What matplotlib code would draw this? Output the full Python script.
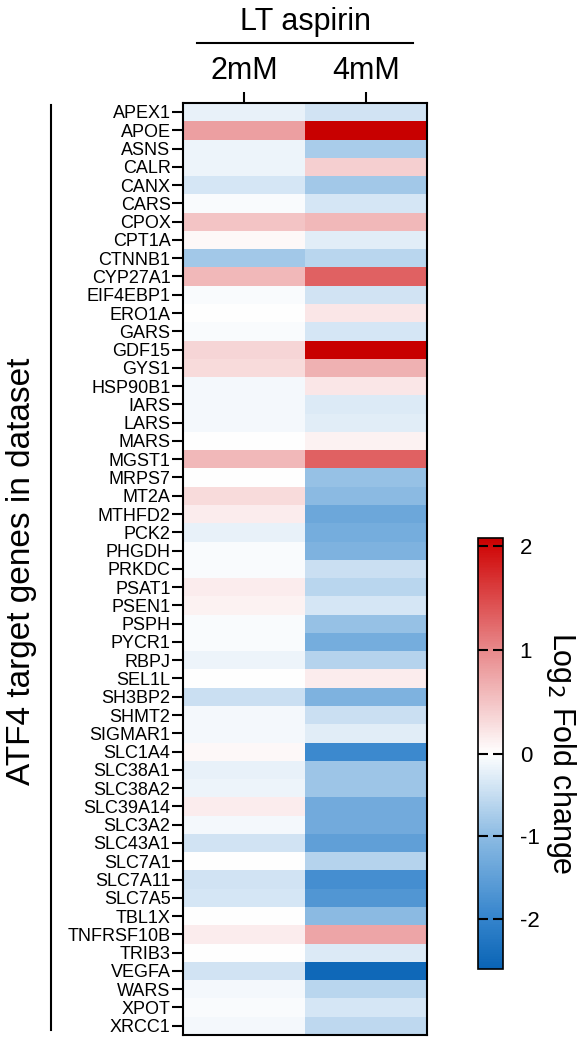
import matplotlib
matplotlib.use("Agg")
import matplotlib.pyplot as plt
import numpy as np
from matplotlib.colors import LinearSegmentedColormap, TwoSlopeNorm
from matplotlib.lines import Line2D

plt.rcParams['font.family'] = ['Liberation Sans', 'DejaVu Sans']
plt.rcParams['axes.unicode_minus'] = False

genes = ["APEX1", "APOE", "ASNS", "CALR", "CANX", "CARS", "CPOX", "CPT1A",
         "CTNNB1", "CYP27A1", "EIF4EBP1", "ERO1A", "GARS", "GDF15", "GYS1",
         "HSP90B1", "IARS", "LARS", "MARS", "MGST1", "MRPS7", "MT2A", "MTHFD2",
         "PCK2", "PHGDH", "PRKDC", "PSAT1", "PSEN1", "PSPH", "PYCR1", "RBPJ",
         "SEL1L", "SH3BP2", "SHMT2", "SIGMAR1", "SLC1A4", "SLC38A1", "SLC38A2",
         "SLC39A14", "SLC3A2", "SLC43A1", "SLC7A1", "SLC7A11", "SLC7A5", "TBL1X",
         "TNFRSF10B", "TRIB3", "VEGFA", "WARS", "XPOT", "XRCC1"]
doses = ["2mM", "4mM"]

# log2 fold change
lfc_2mM = [-0.2, 0.8, -0.15, -0.15, -0.35, -0.05, 0.5, 0.05,
           -0.8, 0.6, -0.05, 0.0, -0.05, 0.35, 0.3,
           -0.1, -0.1, -0.1, 0.0, 0.6, 0.0, 0.3, 0.15,
           -0.2, -0.05, -0.05, 0.15, 0.1, -0.05, -0.05, -0.15,
           0.0, -0.45, -0.1, -0.1, 0.05, -0.2, -0.15,
           0.15, -0.1, -0.4, 0.0, -0.4, -0.35, 0.0,
           0.15, 0.0, -0.4, -0.1, -0.05, -0.1]
lfc_4mM = [-0.4, 2.1, -0.75, 0.4, -0.8, -0.35, 0.6, -0.25,
           -0.6, 1.3, -0.4, 0.2, -0.35, 2.1, 0.65,
           0.2, -0.3, -0.25, 0.1, 1.3, -0.9, -1.0, -1.35,
           -1.25, -1.15, -0.45, -0.6, -0.35, -0.9, -1.25, -0.65,
           0.15, -1.15, -0.45, -0.25, -1.9, -0.85, -0.85,
           -1.3, -1.3, -1.5, -0.65, -1.8, -1.65, -1.0,
           0.75, -0.3, -2.5, -0.6, -0.35, -0.55]

data = np.column_stack([lfc_2mM, lfc_4mM])

vmin, vmax = -2.6, 2.08
# colour stops at -2.6, -2, -1, 0, 1, 2, 2.08 on the two-slope scale
cmap = LinearSegmentedColormap.from_list("bwr2", [
    (0.0, "#0a64b5"), (0.1154, "#3484cc"), (0.3077, "#8cbbe3"), (0.5, "#ffffff"),
    (0.7404, "#e8898b"), (0.9808, "#d00a0a"), (1.0, "#c80000")])
norm = TwoSlopeNorm(vmin=vmin, vcenter=0, vmax=vmax)

fig = plt.figure(figsize=(5.81, 10.39), dpi=100)
ax = fig.add_axes([0.315, 0.004, 0.420, 0.897])
im = ax.imshow(data, cmap=cmap, norm=norm, aspect='auto', interpolation='nearest')

ax.set_yticks(range(len(genes)))
ax.set_yticklabels(genes, fontsize=13)
ax.set_xticks(range(len(doses)))
ax.set_xticklabels(doses, fontsize=22)
ax.xaxis.tick_top()
ax.tick_params(axis='y', length=8, width=1.5, pad=1)
ax.tick_params(axis='x', length=8, width=1.5, pad=4)
for s in ax.spines.values():
    s.set_linewidth(1.5)

# header
fig.text(0.525, 0.979, "LT aspirin", ha='center', va='center', fontsize=22)
fig.add_artist(Line2D([197 / 581, 413 / 581], [1 - 43 / 1039, 1 - 43 / 1039],
                      color='black', lw=1.5))

# left bracket + label
fig.add_artist(Line2D([51 / 581, 51 / 581], [1 - 105 / 1039, 1 - 1030 / 1039],
                      color='black', lw=1.5))
fig.text(22 / 581, 0.45, "ATF4 target genes in dataset", rotation=90,
         ha='center', va='center', fontsize=24)

# colorbar
cax = fig.add_axes([478 / 581, 1 - 969 / 1039, 25 / 581, 431 / 1039])
cb = fig.colorbar(im, cax=cax, ticks=[-2, -1, 0, 1, 2])
cb.outline.set_linewidth(1.2)
cax.tick_params(axis='y', direction='in', length=7, width=1.5, left=True, right=True,
                labelsize=16, pad=12)
cb.set_label("Log$_2$ Fold change", rotation=-90, fontsize=22, labelpad=28)

fig.savefig("out.png", dpi=100)
